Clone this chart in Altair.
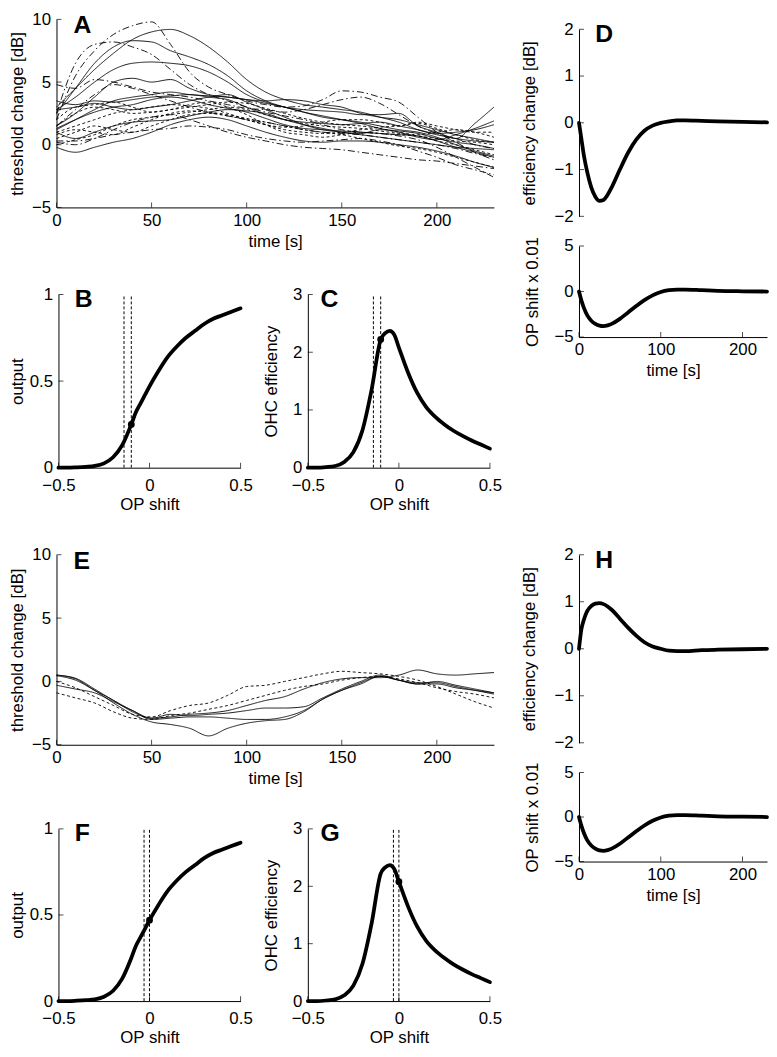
import altair as alt
import pandas as pd

W, H = 769, 1049
FONT = "Liberation Sans"
FS = 17

# ---------------- values ----------------
t_a = list(range(0, 231, 10))

A_solid = [
    [3.0, 4.5, 6.0, 7.3, 8.4, 9.0, 9.2, 8.7, 7.8, 6.6, 5.2, 4.2, 3.6, 3.2, 3.0, 2.8, 2.6, 2.2, 1.8, 1.2, 0.8, 0.5, 0.3, 0.2],
    [2.5, 4.5, 6.5, 7.8, 8.3, 8.2, 7.5, 7.0, 6.4, 5.5, 4.3, 3.5, 3.0, 2.6, 2.2, 2.0, 1.8, 1.5, 1.2, 1.0, 0.6, 0.0, -0.5, -0.9],
    [2.8, 3.8, 5.0, 6.0, 6.5, 6.6, 6.5, 6.3, 5.8, 5.0, 4.0, 3.4, 3.0, 2.8, 2.7, 2.6, 2.4, 2.4, 2.5, 1.5, 1.0, 0.5, 1.7, 3.0],
    [1.5, 2.5, 3.8, 5.0, 5.3, 5.0, 5.2, 4.5, 4.0, 3.8, 3.6, 3.5, 3.6, 3.5, 3.2, 3.0, 2.5, 2.2, 2.0, 1.6, 1.2, 0.8, 0.5, 0.2],
    [1.2, 2.0, 2.8, 3.5, 3.8, 4.0, 4.2, 4.0, 3.9, 3.8, 3.6, 3.3, 3.0, 2.6, 2.3, 2.0, 1.7, 1.3, 1.0, 0.6, 0.4, 0.8, 1.3, 1.9],
    [3.5, 3.2, 3.5, 3.4, 3.6, 3.8, 3.9, 4.0, 3.8, 3.6, 3.0, 2.4, 2.0, 1.8, 1.7, 1.6, 1.7, 1.8, 1.5, 1.2, 0.9, 1.0, 1.2, 1.6],
    [1.3, 2.0, 2.6, 3.0, 3.2, 3.6, 3.8, 3.6, 3.2, 2.9, 2.6, 2.1, 1.6, 1.3, 1.2, 1.1, 1.0, 0.9, 0.8, 0.7, 0.3, -0.2, -0.6, -1.0],
    [-0.2, -0.6, -0.2, 0.2, 0.5, 1.0, 1.6, 2.0, 2.2, 2.0, 1.5, 1.0, 0.6, 0.3, 0.2, 0.3, 0.3, 0.2, 0.0, -0.2, -0.5, -0.9, -1.4, -1.8],
    [1.0, 0.5, 1.0, 1.5, 1.8, 1.9, 2.0, 2.3, 2.6, 2.8, 2.7, 2.5, 2.0, 1.6, 1.3, 1.0, 0.8, 0.6, 0.4, 0.2, 0.0, -0.2, -0.3, -0.4],
    [2.8, 3.0, 3.3, 3.0, 2.8, 3.0, 3.2, 3.5, 3.8, 4.0, 3.4, 2.8, 2.2, 1.6, 1.2, 1.0, 0.9, 1.2, 1.1, 0.9, 0.5, 0.2, 0.0, -0.3],
]
A_dashdot = [
    [2.0, 5.5, 7.5, 8.8, 9.5, 9.8, 8.0, 5.8, 4.6, 4.0, 3.5, 3.2, 3.0, 3.1, 3.6, 4.3, 4.2, 3.8, 3.4, 2.2, 1.0, 0.2, -0.6, -1.2],
    [4.8, 4.5, 5.2, 5.0, 4.6, 4.2, 4.0, 3.8, 3.5, 3.2, 2.9, 2.8, 2.6, 2.8, 3.2, 3.6, 3.8, 3.3, 2.4, 1.5, 0.9, 0.5, 0.0, -0.3],
    [0.3, 0.3, 0.5, 0.8, 1.0, 1.2, 1.3, 1.5, 1.4, 1.2, 0.8, 0.5, 0.3, 0.2, 0.3, 0.4, 0.5, 0.3, 0.0, -0.5, -1.0, -1.6, -2.0, -2.4],
    [1.5, 2.8, 4.0, 4.8, 4.5, 4.0, 3.5, 3.0, 2.6, 2.3, 2.0, 1.8, 1.5, 1.2, 1.0, 0.9, 0.8, 0.6, 0.4, 0.2, 0.0, -0.3, -0.7, -1.0],
    [2.5, 6.5, 8.0, 8.2, 7.8, 7.2, 6.0, 4.8, 4.0, 3.5, 3.0, 2.6, 2.3, 2.0, 1.6, 1.2, 1.0, 0.9, 0.7, 0.4, -0.2, -1.0, -1.8, -2.6],
    [0.2, 0.0, 0.5, 1.2, 1.8, 2.2, 2.4, 2.0, 1.5, 1.0, 0.6, 0.3, 0.0, -0.2, -0.3, -0.4, -0.6, -0.8, -1.0, -1.2, -1.3, -1.5, -1.7, -1.9],
]
A_dotted = [
    [1.0, 1.5, 2.0, 2.5, 2.8, 3.0, 3.2, 3.1, 2.9, 2.5, 2.0, 1.6, 1.4, 1.5, 1.8, 2.0, 2.0, 1.8, 1.5, 1.8, 1.5, 1.2, 1.0, 1.0],
    [0.5, 1.0, 1.5, 1.2, 1.0, 1.5, 2.0, 2.4, 2.5, 2.3, 2.0, 1.6, 1.2, 1.0, 0.9, 1.0, 1.2, 1.4, 1.5, 1.7, 1.3, 0.8, 0.4, 0.2],
    [1.5, 2.5, 3.0, 2.8, 2.5, 2.6, 2.8, 3.2, 3.4, 3.0, 2.4, 1.6, 1.0, 0.8, 0.6, 0.8, 1.0, 0.9, 0.8, 0.7, 0.3, 0.0, -0.4, -0.8],
    [0.8, 1.2, 1.0, 0.8, 1.4, 2.0, 2.5, 2.7, 2.6, 2.4, 2.1, 1.8, 1.5, 1.2, 1.0, 0.8, 0.5, 0.2, -0.1, -0.3, -0.6, -1.0, -1.4, -1.8],
    [0.0, 0.4, 0.8, 1.5, 2.0, 2.2, 2.4, 2.6, 2.8, 3.0, 2.8, 2.4, 2.0, 1.7, 1.5, 1.4, 1.3, 1.1, 0.9, 0.7, 0.5, 0.3, 0.2, 0.0],
    [2.0, 3.0, 3.2, 3.4, 3.0, 2.6, 2.8, 3.0, 3.2, 3.4, 3.3, 2.9, 2.5, 2.1, 1.8, 1.6, 1.5, 1.3, 1.0, 0.8, 1.0, 1.2, 1.0, 0.6],
]

t_e = list(range(0, 231, 10))
E_solid = [
    [0.5, 0.2, -0.7, -1.7, -2.6, -3.2, -3.4, -3.7, -4.3, -3.7, -3.3, -3.1, -3.0, -2.4, -1.4, -0.7, -0.2, 0.4, 0.1, -0.2, 0.0, -0.3, -0.6, -0.9],
    [0.45, 0.1, -0.7, -1.5, -2.4, -2.9, -2.6, -2.7, -2.6, -2.5, -2.3, -2.1, -2.1, -2.0, -1.3, -0.6, 0.0, 0.5, 0.1, -0.2, -0.2, -0.5, -0.7, -0.9],
    [-0.3, -0.6, -0.9, -1.6, -2.3, -2.9, -2.8, -2.6, -2.5, -2.3, -1.9, -1.5, -1.2, -0.6, -0.1, 0.2, 0.3, 0.3, 0.5, 0.9, 0.6, 0.5, 0.6, 0.7],
    [0.5, 0.25, -0.6, -1.5, -2.3, -3.0, -2.9, -2.8, -2.8, -2.9, -3.0, -3.0, -2.8, -2.3, -1.4, -0.7, -0.1, 0.4, 0.1, -0.1, -0.1, -0.4, -0.7, -1.0],
]
E_dotted = [
    [0.0, -0.5, -1.2, -1.9, -2.6, -2.8, -2.3, -1.9, -1.7, -1.1, -0.4, -0.3, 0.0, 0.3, 0.6, 0.8, 0.7, 0.6, 0.4, 0.1, -0.4, -1.0, -1.6, -2.1],
    [-0.9, -1.3, -1.7, -2.4, -2.9, -3.0, -2.7, -2.5, -2.2, -1.9, -1.5, -1.1, -0.7, -0.4, -0.2, 0.1, 0.3, 0.4, 0.2, -0.1, -0.5, -0.8, -1.0, -1.3],
]

op_shift = [-0.5, -0.45, -0.4, -0.35, -0.3, -0.25, -0.2, -0.15, -0.1, -0.075, -0.05, -0.025, 0.0,
            0.05, 0.1, 0.15, 0.2, 0.25, 0.3, 0.35, 0.4, 0.45, 0.5]
output_curve = [0.0, 0.0, 0.002, 0.005, 0.01, 0.025, 0.06, 0.13, 0.25, 0.32, 0.37, 0.42, 0.47,
                0.56, 0.64, 0.70, 0.75, 0.79, 0.83, 0.86, 0.88, 0.90, 0.92]
ohc_curve = [0.0, 0.0, 0.01, 0.03, 0.1, 0.27, 0.65, 1.35, 2.22, 2.33, 2.37, 2.3, 2.08,
             1.65, 1.3, 1.05, 0.88, 0.75, 0.64, 0.55, 0.47, 0.40, 0.33]

B_marks = [-0.14, -0.10]
B_dot = [-0.10, 0.25]
C_dot = [-0.10, 2.22]
F_marks = [-0.03, 0.0]
F_dot = [0.0, 0.47]
G_dot = [0.0, 2.08]

t_d = [0, 3, 6, 10, 15, 20, 25, 30, 35, 40, 50, 60, 70, 80, 90, 100, 110, 120, 130, 150, 170, 200, 230]
D_eff = [0.0, -0.35, -0.7, -1.05, -1.38, -1.58, -1.67, -1.65, -1.54, -1.38, -1.0, -0.64, -0.36,
         -0.17, -0.06, 0.0, 0.03, 0.05, 0.05, 0.04, 0.03, 0.02, 0.01]
D_op = [0.0, -1.0, -1.8, -2.6, -3.2, -3.55, -3.75, -3.8, -3.72, -3.55, -3.0, -2.3, -1.6,
        -0.95, -0.42, -0.05, 0.15, 0.22, 0.22, 0.15, 0.08, 0.03, 0.0]
H_eff = [0.0, 0.42, 0.62, 0.8, 0.91, 0.96, 0.97, 0.95, 0.9, 0.83, 0.64, 0.45, 0.28,
         0.14, 0.05, 0.0, -0.04, -0.05, -0.05, -0.03, -0.02, -0.01, 0.0]
H_op = [0.0, -1.0, -1.8, -2.6, -3.2, -3.55, -3.75, -3.8, -3.72, -3.55, -3.0, -2.3, -1.6,
        -0.95, -0.42, -0.05, 0.15, 0.22, 0.22, 0.15, 0.08, 0.03, 0.0]

ticks_time = [0, 50, 100, 150, 200]
ticks_time_d = [0, 100, 200]
ticks_thr = [-5, 0, 5, 10]
ticks_op = [-0.5, 0, 0.5]
ticks_out = [0, 0.5, 1]
ticks_ohc = [0, 1, 2, 3]
ticks_eff = [-2, -1, 0, 1, 2]
ticks_ops = [-5, 0, 5]


# ---------------- layout (page pixels of plot areas) ----------------
def geom(px, py, xd, yd):
    return dict(
        xs=alt.Scale(domain=xd, range=[px[0] - 8, px[1] - 8], nice=False, zero=False),
        ys=alt.Scale(domain=yd, range=[py[0] - 8, py[1] - 8], nice=False, zero=False),
        xl=px[0] - 8, yb=py[0] - 8, xd=xd, yd=yd)


G = {
    'A': geom([57, 499], [204, 14], [0, 230], [-5, 10]),
    'B': geom([59, 243], [467, 292], [-0.5, 0.5], [0, 1]),
    'C': geom([311, 495], [467, 292], [-0.5, 0.5], [0, 3]),
    'Dt': geom([585, 775], [213, 24], [0, 230], [-2, 2]),
    'Db': geom([585, 775], [335, 243], [0, 230], [-5, 5]),
    'E': geom([57, 499], [747, 555], [0, 230], [-5, 10]),
    'F': geom([59, 243], [1006, 832], [-0.5, 0.5], [0, 1]),
    'G': geom([311, 495], [1006, 832], [-0.5, 0.5], [0, 3]),
    'Ht': geom([585, 775], [745, 555], [0, 230], [-2, 2]),
    'Hb': geom([585, 775], [865, 775], [0, 230], [-5, 5]),
}


def x_axis(g, values, title, lpad, tpad):
    return alt.Axis(orient='bottom', offset=g['yb'] - H, values=values, format='~r',
                    ticks=False, tickSize=0, grid=False, domainColor='black', domainWidth=1,
                    labelColor='black', labelFont=FONT, labelFontSize=FS, labelPadding=lpad,
                    labelFlush=False, labelOverlap=False,
                    title=title, titleFont=FONT, titleFontSize=FS, titleFontWeight='normal',
                    titleColor='black', titlePadding=tpad)


def y_axis(g, values, title, tx):
    return alt.Axis(orient='left', offset=-g['xl'], values=values, format='~r',
                    ticks=False, tickSize=0, grid=False, domainColor='black', domainWidth=1,
                    labelColor='black', labelFont=FONT, labelFontSize=FS, labelPadding=6,
                    labelFlush=False, labelOverlap=False,
                    title=title, titleFont=FONT, titleFontSize=FS, titleFontWeight='normal',
                    titleColor='black', titleX=tx)


def setup(key, xvals, yvals, xtitle, ytitle, tx, show_x=True, lpad=5, tpad=5):
    g = G[key]
    g['xa'] = x_axis(g, xvals, xtitle, lpad, tpad) if show_x else None
    g['ya'] = y_axis(g, yvals, ytitle, tx)
    g['xv'] = xvals if show_x else []
    g['yv'] = yvals
    return g


def enc(g):
    # identical axis definition on every layer of a panel so that they merge
    return dict(x=alt.X('x:Q', scale=g['xs'], axis=g['xa']),
                y=alt.Y('y:Q', scale=g['ys'], axis=g['ya']))


def frame(g, letter=None, lpos=None):
    """inward ticks and panel letter"""
    layers = []
    if g['xv']:
        dfx = pd.DataFrame({'x': g['xv'], 'y': [g['yd'][0]] * len(g['xv'])})
        layers.append(alt.Chart(dfx).mark_tick(orient='vertical', size=5, thickness=1,
                                               yOffset=-2.5, color='black').encode(**enc(g)))
    dfy = pd.DataFrame({'x': [g['xd'][0]] * len(g['yv']), 'y': g['yv']})
    layers.append(alt.Chart(dfy).mark_tick(orient='horizontal', size=5, thickness=1,
                                           xOffset=2.5, color='black').encode(**enc(g)))
    if letter:
        dfl = pd.DataFrame({'x': [lpos[0]], 'y': [lpos[1]], 'label': [letter]})
        layers.append(alt.Chart(dfl).mark_text(font=FONT, fontSize=25, fontWeight='bold', align='left',
                                               baseline='alphabetic', color='black')
                      .encode(text='label:N', **enc(g)))
    return layers


def traces(g, t, groups):
    layers = []
    dashes = {'solid': [1, 0], 'dashdot': [7, 3, 1.5, 3], 'dot': [3, 2.5]}
    for style, curves in groups:
        rows = []
        for i, vals in enumerate(curves):
            for tt, v in zip(t, vals):
                rows.append({'x': tt, 'y': v, 'id': f'{style}{i}'})
        layers.append(alt.Chart(pd.DataFrame(rows)).mark_line(
            color='black', strokeWidth=0.9, strokeDash=dashes[style], interpolate='monotone')
            .encode(detail='id:N', **enc(g)))
    return layers


def thick(g, xs, ys):
    df = pd.DataFrame({'x': xs, 'y': ys})
    return alt.Chart(df).mark_line(color='black', strokeWidth=3.8, interpolate='monotone',
                                   strokeCap='round').encode(**enc(g))


def vlines(g, xs):
    df = pd.DataFrame({'x': xs, 'y': [g['yd'][0]] * len(xs), 'y2': [g['yd'][1]] * len(xs)})
    return alt.Chart(df).mark_rule(color='black', strokeWidth=1, strokeDash=[3, 2]).encode(
        y2='y2:Q', **enc(g))


def dot(g, p):
    df = pd.DataFrame({'x': [p[0]], 'y': [p[1]]})
    return alt.Chart(df).mark_circle(color='black', size=48, opacity=1).encode(**enc(g))


panels = []

# A and E
for key, letter, groups in (('A', 'A', [('solid', A_solid), ('dashdot', A_dashdot), ('dot', A_dotted)]),
                            ('E', 'E', [('solid', E_solid), ('dot', E_dotted)])):
    g = setup(key, ticks_time, ticks_thr, 'time [s]', 'threshold change [dB]', -30)
    panels.append(alt.layer(*(traces(g, t_a, groups) + frame(g, letter, [9, 8.9]))))

# B, F
for key, mk, p, letter in (('B', B_marks, B_dot, 'B'), ('F', F_marks, F_dot, 'F')):
    g = setup(key, ticks_op, ticks_out, 'OP shift', 'output', -32, lpad=10, tpad=3)
    panels.append(alt.layer(vlines(g, mk), thick(g, op_shift, output_curve), dot(g, p),
                            *frame(g, letter, [-0.41, 0.93])))

# C, G
for key, mk, p, letter in (('C', B_marks, C_dot, 'C'), ('G', F_marks, G_dot, 'G')):
    g = setup(key, ticks_op, ticks_ohc, 'OP shift', 'OHC efficiency', -28, lpad=10, tpad=3)
    panels.append(alt.layer(vlines(g, mk), thick(g, op_shift, ohc_curve), dot(g, p),
                            *frame(g, letter, [-0.43, 2.79])))

# D, H
for top, bot, eff, ops, letter in (('Dt', 'Db', D_eff, D_op, 'D'), ('Ht', 'Hb', H_eff, H_op, 'H')):
    g = setup(top, [], ticks_eff, '', 'efficiency change [dB]', -41, show_x=False)
    panels.append(alt.layer(thick(g, t_d, eff), *frame(g, letter, [20, 1.72])))
    g = setup(bot, ticks_time_d, ticks_ops, 'time [s]', 'OP shift x 0.01', -38)
    panels.append(alt.layer(thick(g, t_d, ops), *frame(g)))

chart = (alt.layer(*panels)
         .resolve_scale(x='independent', y='independent')
         .properties(width=W, height=H, autosize=alt.AutoSizeParams(type='none'), padding=0)
         .configure_view(stroke=None))

chart.save("out.html", embed_options={"renderer": "svg", "actions": False})
